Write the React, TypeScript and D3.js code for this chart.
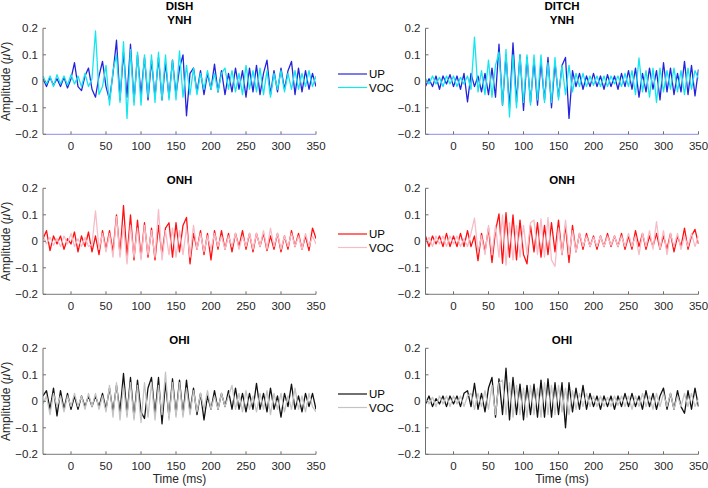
import React from "react";
import * as d3 from "d3";

// sample grid (ms) on which the traces were read
const TIMES: number[] = d3.range(-40, 351, 5);
const X_TICKS = [0, 50, 100, 150, 200, 250, 300, 350];
const Y_TICKS = [-0.2, -0.1, 0, 0.1, 0.2];
const X_DOMAIN: [number, number] = [-40, 350];
const Y_DOMAIN: [number, number] = [-0.2, 0.2];
const SERIES_NAMES = ["UP", "VOC"];

// DISH / YNH
const DISH_YNH_UP = [
  0.01, -0.02, 0.015, -0.015, 0.01, -0.02, 0.015, -0.025, 0.01, 0.07,
  -0.02, -0.035, 0.02, 0.05, -0.03, -0.06, 0.02, 0.075, -0.02, -0.07,
  0.03, 0.155, -0.07, 0.11, -0.06, 0.14, -0.075, 0.1, -0.05, 0.09,
  -0.07, 0.08, -0.06, 0.09, -0.07, 0.07, -0.06, 0.08, -0.05, 0.05,
  0.1, -0.13, 0.03, 0.05, -0.04, 0.04, -0.05, 0.03, -0.03, 0.065,
  -0.04, 0.04, -0.05, 0.03, -0.04, 0.05, -0.03, 0.04, -0.06, 0.05,
  -0.04, 0.06, -0.05, 0.03, 0.08, -0.05, 0.04, -0.04, 0.05, -0.03,
  0.04, 0.075, -0.05, 0.05, -0.04, 0.04, -0.03, 0.03, -0.02,
];
const DISH_YNH_VOC = [
  0.02, -0.01, 0.02, -0.02, 0.025, -0.01, 0.02, -0.015, 0.025, -0.01,
  0.02, -0.02, 0.03, -0.02, 0.01, 0.19, -0.05, -0.02, 0.06, -0.09,
  0.04, 0.1, -0.08, 0.15, -0.14, 0.12, -0.09, 0.11, -0.09, 0.1,
  -0.06, 0.1, -0.08, 0.11, -0.07, 0.1, -0.07, 0.08, -0.07, 0.115,
  -0.06, 0.06, -0.05, 0.05, -0.05, 0.03, -0.03, 0.04, -0.03, 0.03,
  -0.04, 0.03, 0.05, -0.03, 0.04, -0.04, 0.03, -0.05, 0.06, -0.03,
  0.04, -0.04, 0.05, -0.05, 0.04, -0.06, 0.03, -0.03, 0.04, -0.04,
  0.03, -0.03, 0.04, -0.03, 0.03, -0.02, 0.04, -0.02, 0.02,
];
// DITCH / YNH
const DITCH_YNH_UP = [
  -0.02, 0.01, -0.02, 0.02, -0.03, 0.02, -0.01, 0.025, -0.02, 0.02,
  -0.03, 0.03, -0.078, 0.03, -0.02, 0.02, -0.04, 0.03, -0.05, 0.05,
  -0.06, 0.14, -0.09, 0.1, -0.1, 0.145, -0.08, 0.1, -0.11, 0.09,
  -0.08, 0.08, -0.09, 0.07, -0.07, 0.09, -0.1, 0.07, -0.06, 0.06,
  0.09, -0.14, 0.04, -0.02, 0.03, -0.03, 0.02, -0.02, 0.03, -0.02,
  0.02, -0.03, 0.025, -0.02, 0.02, -0.03, 0.03, -0.02, 0.04, -0.03,
  0.05, -0.06, 0.03, -0.04, 0.05, -0.03, 0.04, -0.07, 0.07, -0.04,
  0.05, -0.05, 0.03, -0.04, 0.075, -0.05, 0.06, -0.055, 0.045,
];
const DITCH_YNH_VOC = [
  0.01, -0.01, 0.02, -0.01, 0.015, -0.02, 0.02, -0.01, 0.02, -0.02,
  0.015, -0.01, 0.02, -0.03, 0.167, -0.04, 0.04, -0.05, 0.08, -0.06,
  0.06, 0.11, -0.09, 0.12, -0.135, 0.1, -0.1, 0.1, -0.08, 0.1,
  -0.09, 0.1, -0.07, 0.1, -0.08, 0.07, -0.08, 0.09, -0.07, 0.06,
  -0.05, 0.06, -0.04, 0.03, -0.02, 0.03, -0.02, 0.02, -0.015, 0.02,
  -0.02, 0.02, -0.02, 0.02, -0.01, 0.02, -0.02, 0.03, -0.02, 0.04,
  -0.05, 0.088, -0.04, 0.04, -0.06, 0.05, -0.08, 0.05, -0.04, 0.04,
  -0.03, 0.05, -0.04, 0.04, -0.05, 0.05, -0.03, 0.04, 0.01,
];
// DISH / ONH
const DISH_ONH_UP = [
  0.01, 0.04, -0.035, 0.02, -0.01, 0.02, -0.03, 0.01, -0.01, 0.035,
  -0.04, 0.02, -0.02, 0.035, -0.04, 0.02, -0.05, 0.04, -0.03, 0.04,
  -0.04, 0.1, -0.05, 0.135, -0.06, 0.1, -0.07, 0.08, -0.06, 0.07,
  -0.06, 0.05, -0.07, 0.06, -0.05, 0.05, 0.07, -0.06, 0.07, -0.04,
  0.06, 0.09, -0.085, 0.03, -0.03, 0.04, -0.05, 0.03, -0.07, 0.04,
  -0.03, 0.04, -0.03, 0.03, -0.04, 0.03, -0.02, 0.04, -0.03, 0.03,
  -0.04, 0.03, -0.02, 0.03, -0.035, 0.02, -0.03, 0.03, -0.04, 0.02,
  -0.03, 0.04, -0.02, 0.03, -0.03, 0.02, -0.035, 0.05, 0.01,
];
const DISH_ONH_VOC = [
  0.02, -0.01, 0.015, -0.015, 0.01, -0.02, 0.02, -0.01, 0.03, -0.02,
  0.01, -0.02, 0.015, -0.02, -0.01, 0.115, -0.03, 0.03, -0.04, 0.03,
  -0.06, 0.093, -0.06, 0.06, -0.085, 0.06, -0.06, 0.05, -0.07, 0.06,
  -0.05, 0.04, -0.06, 0.12, -0.07, 0.04, -0.05, 0.05, -0.06, 0.04,
  -0.05, 0.05, -0.06, 0.06, -0.03, 0.03, -0.04, 0.02, -0.03, 0.03,
  -0.02, 0.02, -0.03, 0.02, -0.02, 0.03, -0.03, 0.02, -0.02, 0.03,
  -0.03, 0.03, -0.02, 0.04, -0.03, 0.05, -0.02, 0.03, -0.03, 0.02,
  -0.02, 0.03, -0.02, 0.02, -0.03, 0.03, -0.02, 0.02, -0.01,
];
// DITCH / ONH
const DITCH_ONH_UP = [
  0.02, -0.02, 0.02, -0.01, 0.02, -0.02, 0.03, -0.02, 0.02, -0.02,
  0.03, -0.02, 0.04, -0.02, 0.02, -0.073, 0.03, -0.04, 0.05, -0.08,
  0.04, 0.103, -0.083, 0.108, -0.06, 0.1, -0.07, 0.08, -0.05, -0.085,
  0.06, -0.04, 0.07, -0.06, 0.06, -0.05, 0.07, -0.04, 0.08, -0.05,
  0.06, -0.08, 0.06, -0.04, 0.03, -0.03, 0.03, -0.02, 0.02, -0.03,
  0.02, -0.02, 0.03, -0.02, 0.02, -0.02, 0.03, -0.03, 0.02, -0.03,
  0.04, -0.02, 0.03, -0.03, 0.02, -0.02, 0.03, -0.03, 0.02, -0.03,
  0.03, -0.04, 0.02, -0.02, 0.05, -0.03, 0.02, 0.045, -0.01,
];
const DITCH_ONH_VOC = [
  -0.01, 0.015, -0.02, 0.02, -0.01, 0.02, -0.02, 0.02, -0.01, 0.02,
  -0.02, 0.01, -0.02, 0.03, 0.087, -0.04, 0.02, -0.05, 0.06, -0.05,
  0.06, -0.06, 0.1, -0.09, 0.07, -0.07, 0.06, -0.06, 0.06, -0.05,
  0.07, 0.08, -0.05, 0.085, -0.06, 0.09, -0.07, -0.095, 0.05, -0.05,
  0.08, -0.05, 0.04, -0.04, 0.03, -0.02, 0.02, -0.02, 0.015, -0.02,
  0.02, -0.02, 0.02, -0.015, 0.02, -0.02, 0.02, -0.02, 0.03, -0.02,
  0.02, -0.05, 0.03, -0.02, 0.04, -0.03, 0.074, -0.03, 0.04, -0.05,
  0.03, -0.02, 0.03, -0.03, 0.02, -0.02, 0.03, -0.02, 0.02,
];
// DISH / OHI
const DISH_OHI_UP = [
  0.02, 0.04, -0.03, 0.05, -0.055, 0.04, -0.03, 0.03, -0.03, 0.02,
  -0.03, 0.02, -0.02, 0.02, -0.02, 0.02, -0.02, 0.03, -0.03, 0.05,
  -0.04, 0.06, -0.04, 0.105, -0.05, 0.09, -0.06, 0.08, -0.04, -0.065,
  0.05, 0.09, -0.05, 0.09, -0.085, 0.07, -0.06, 0.085, -0.05, 0.08,
  -0.05, 0.08, -0.04, 0.05, -0.05, 0.03, -0.07, 0.02, -0.03, 0.04,
  -0.03, 0.03, -0.02, 0.04, -0.03, 0.05, -0.03, 0.03, -0.04, 0.03,
  -0.03, 0.068, -0.03, 0.03, -0.04, 0.05, -0.03, 0.02, -0.06, 0.03,
  -0.02, 0.065, -0.03, 0.02, -0.04, 0.03, -0.02, 0.03, -0.03,
];
const DISH_OHI_VOC = [
  -0.01, 0.02, -0.05, 0.03, -0.02, 0.02, -0.04, 0.02, -0.02, 0.03,
  -0.02, 0.02, -0.03, 0.03, -0.02, 0.03, -0.03, 0.02, -0.04, 0.06,
  -0.06, 0.07, -0.07, 0.06, -0.06, 0.07, -0.07, 0.06, -0.08, 0.07,
  -0.06, 0.07, -0.07, 0.06, -0.05, 0.11, -0.07, 0.07, -0.06, 0.07,
  -0.06, 0.05, -0.05, 0.04, -0.04, 0.03, -0.03, 0.04, -0.03, 0.02,
  -0.03, 0.03, -0.02, 0.02, 0.06, -0.03, 0.03, -0.04, 0.04, -0.03,
  0.02, -0.04, 0.03, -0.03, 0.04, -0.05, 0.03, -0.03, 0.03, -0.04,
  0.02, -0.03, 0.05, -0.03, 0.02, -0.04, 0.03, -0.02, -0.04,
];
// DITCH / OHI
const DITCH_OHI_UP = [
  -0.01, 0.02, -0.02, 0.01, -0.01, 0.02, -0.02, 0.02, -0.01, 0.02,
  -0.02, 0.03, 0.04, -0.02, 0.068, -0.03, 0.03, -0.04, 0.05, 0.09,
  -0.06, 0.085, -0.05, 0.125, -0.07, 0.09, -0.05, 0.065, -0.07, 0.06,
  -0.05, 0.065, -0.06, 0.08, -0.06, 0.085, -0.06, 0.07, -0.05, 0.07,
  -0.1, 0.07, -0.04, 0.05, -0.03, 0.06, -0.03, 0.03, -0.02, 0.02,
  -0.03, 0.02, -0.02, 0.02, -0.03, 0.02, -0.02, 0.03, -0.02, 0.03,
  -0.02, 0.02, -0.03, 0.04, -0.02, 0.03, -0.03, 0.02, 0.05, -0.03,
  0.03, -0.03, 0.04, -0.02, -0.045, 0.04, -0.03, 0.05, -0.02,
];
const DITCH_OHI_VOC = [
  0.01, -0.01, 0.015, -0.02, 0.02, -0.01, 0.02, -0.02, 0.02, -0.01,
  0.02, -0.02, 0.02, 0.03, -0.03, 0.03, -0.02, 0.04, -0.03, 0.06,
  -0.05, 0.07, 0.08, -0.05, 0.07, -0.06, 0.06, -0.05, 0.05, -0.06,
  0.06, -0.05, 0.05, -0.06, 0.07, -0.05, 0.06, -0.05, 0.06, -0.04,
  0.05, -0.05, 0.04, -0.03, 0.03, -0.02, 0.03, -0.02, 0.02, -0.02,
  0.02, -0.02, 0.015, -0.02, 0.02, -0.015, 0.02, -0.02, 0.02, -0.03,
  0.02, -0.02, 0.03, -0.02, 0.02, -0.03, 0.03, -0.02, 0.03, -0.02,
  0.03, -0.03, 0.02, -0.02, 0.03, -0.02, 0.03, -0.02, 0.01,
];

const PANELS = [
  { row: 0, col: 0, title: ["DISH", "YNH"], up: DISH_YNH_UP, voc: DISH_YNH_VOC },
  { row: 0, col: 1, title: ["DITCH", "YNH"], up: DITCH_YNH_UP, voc: DITCH_YNH_VOC },
  { row: 1, col: 0, title: ["ONH"], up: DISH_ONH_UP, voc: DISH_ONH_VOC },
  { row: 1, col: 1, title: ["ONH"], up: DITCH_ONH_UP, voc: DITCH_ONH_VOC },
  { row: 2, col: 0, title: ["OHI"], up: DISH_OHI_UP, voc: DISH_OHI_VOC },
  { row: 2, col: 1, title: ["OHI"], up: DITCH_OHI_UP, voc: DITCH_OHI_VOC },
];

const ROW_COLORS = [
  ["#2424dc", "#14e6ee"],
  ["#ff1010", "#f6bcc8"],
  ["#111111", "#c4c4c4"],
];
const ROW_BOTTOM_AXIS = ["#8c8ce6", "#7a7a7a", "#7a7a7a"];

const W = 708;
const H = 488;
const COL_LEFT = [43, 425.5];
const PLOT_W = 273;
const ROW_TOP = [28.3, 188.3, 348.3];
const PLOT_H = 106;
const FONT = "'Liberation Sans', Arial, Helvetica, sans-serif";
const AXIS = "#6e6e6e";

function fmtY(v: number) {
  if (Math.abs(v) < 1e-9) return "0";
  return d3.format(".1f")(v);
}

function Panel({ p, idx }: { p: (typeof PANELS)[number]; idx: number }) {
  const left = COL_LEFT[p.col];
  const top = ROW_TOP[p.row];
  const x = d3.scaleLinear().domain(X_DOMAIN).range([left, left + PLOT_W]);
  const y = d3.scaleLinear().domain(Y_DOMAIN).range([top + PLOT_H, top]);
  const line = d3
    .line<number>()
    .x((_, i) => x(TIMES[i]))
    .y((d) => y(d));
  const [cUp, cVoc] = ROW_COLORS[p.row];
  const clipId = `clip-${idx}`;
  const bottom = top + PLOT_H;
  return (
    <g>
      <defs>
        <clipPath id={clipId}>
          <rect x={left} y={top} width={PLOT_W} height={PLOT_H} />
        </clipPath>
      </defs>
      <g clipPath={`url(#${clipId})`}>
        <path d={line(p.up) || ""} fill="none" stroke={cUp} strokeWidth={1.3} strokeLinejoin="round" />
        <path d={line(p.voc) || ""} fill="none" stroke={cVoc} strokeWidth={1.3} strokeLinejoin="round" />
      </g>
      {/* axes */}
      <line x1={left} x2={left} y1={top} y2={bottom} stroke={AXIS} strokeWidth={1} />
      <line x1={left} x2={left + PLOT_W} y1={bottom} y2={bottom} stroke={ROW_BOTTOM_AXIS[p.row]} strokeWidth={1} />
      {X_TICKS.map((t) => (
        <g key={`xt${t}`}>
          <line x1={x(t)} x2={x(t)} y1={bottom} y2={bottom - 3} stroke={AXIS} strokeWidth={1} />
          <text x={x(t)} y={bottom + 16} textAnchor="middle" fontSize={11.5} fill="#262626" fontFamily={FONT}>
            {t}
          </text>
        </g>
      ))}
      {Y_TICKS.map((t) => (
        <g key={`yt${t}`}>
          <line x1={left} x2={left + 3} y1={y(t)} y2={y(t)} stroke={AXIS} strokeWidth={1} />
          <text x={left - 5} y={y(t)} dy="0.35em" textAnchor="end" fontSize={11.5} fill="#262626" fontFamily={FONT}>
            {fmtY(t)}
          </text>
        </g>
      ))}
      {/* titles */}
      {p.title.map((t, i) => (
        <text
          key={t + i}
          x={left + PLOT_W / 2}
          y={top - 4.3 - (p.title.length - 1 - i) * 13.7}
          textAnchor="middle"
          fontSize={11.5}
          fontWeight="bold"
          fill="#000"
          fontFamily={FONT}
        >
          {t}
        </text>
      ))}
      {p.col === 0 && (
        <text
          transform={`translate(10,${top + PLOT_H / 2}) rotate(-90)`}
          textAnchor="middle"
          fontSize={12}
          fill="#262626"
          fontFamily={FONT}
        >
          Amplitude (<tspan fontStyle="italic">μ</tspan>V)
        </text>
      )}
      {p.row === 2 && (
        <text x={left + PLOT_W / 2} y={483} textAnchor="middle" fontSize={12} fill="#262626" fontFamily={FONT}>
          Time (ms)
        </text>
      )}
    </g>
  );
}

function Legend({ row }: { row: number }) {
  const top = ROW_TOP[row];
  return (
    <g>
      {SERIES_NAMES.map((name, i) => {
        const yy = top + 45.7 + i * 13.5;
        return (
          <g key={name}>
            <line x1={338} x2={367} y1={yy} y2={yy} stroke={ROW_COLORS[row][i]} strokeWidth={1.2} />
            <text x={369} y={yy} dy="0.36em" fontSize={11.5} fill="#000" fontFamily={FONT}>
              {name}
            </text>
          </g>
        );
      })}
    </g>
  );
}

export default function App() {
  return (
    <div style={{ position: "absolute", left: 0, top: 0, width: W, height: H, background: "#fff" }}>
      <svg width={W} height={H} viewBox={`0 0 ${W} ${H}`}>
        <rect x={0} y={0} width={W} height={H} fill="#fff" />
        {PANELS.map((p, i) => (
          <Panel key={i} p={p} idx={i} />
        ))}
        {[0, 1, 2].map((r) => (
          <Legend key={r} row={r} />
        ))}
      </svg>
    </div>
  );
}
